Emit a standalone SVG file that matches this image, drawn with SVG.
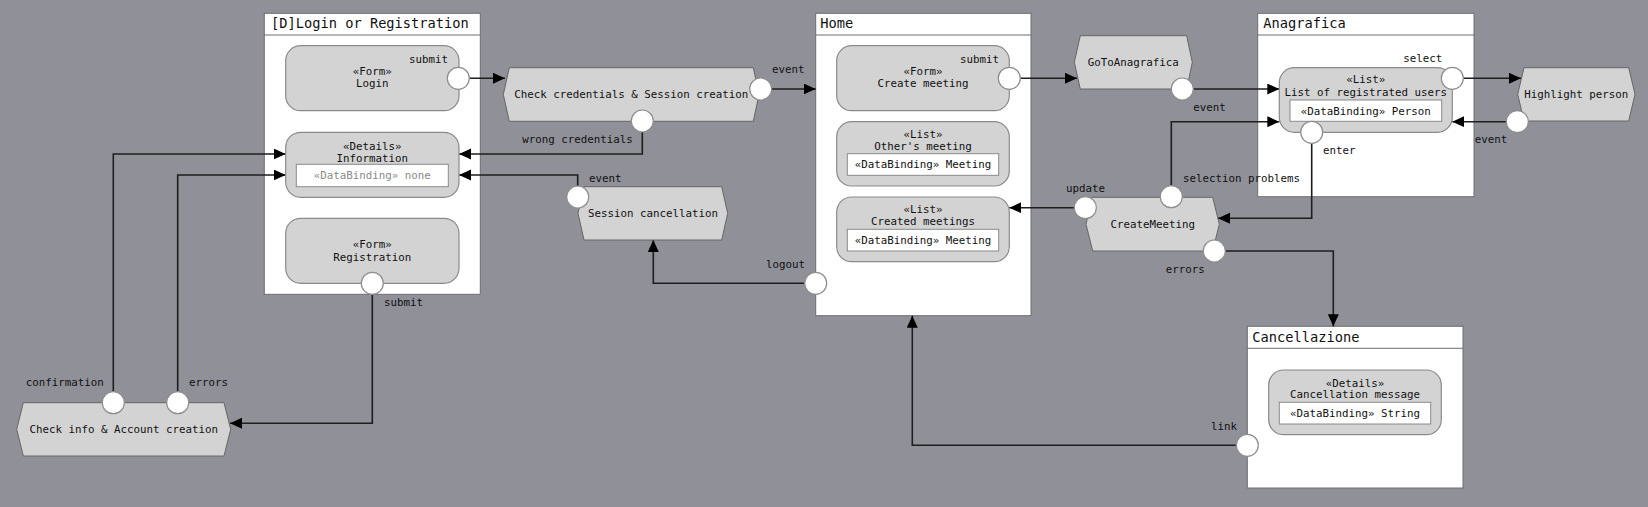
<svg xmlns="http://www.w3.org/2000/svg" width="1648" height="507" viewBox="0 0 1648 507">
<defs>
<style>
.bg{fill:#8f9098}
.cont{fill:#ffffff;stroke:#6e6e6e;stroke-width:1}
.node{fill:#d3d3d3;stroke:#8a8a8a;stroke-width:1.2}
.inner{fill:#ffffff;stroke:#8a8a8a;stroke-width:1}
.hex{fill:#d3d3d3;stroke:#666;stroke-width:1}
.port{fill:#ffffff;stroke:#8e8e8e;stroke-width:1.2}
.conn{fill:none;stroke:#1e1e1e;stroke-width:1.6}
text{font-family:"DejaVu Sans Mono","Liberation Mono",monospace;font-size:10.8px;fill:#111}
.title{font-size:13.7px}
.c{text-anchor:middle}
.e{text-anchor:end}
.gray{fill:#8a8a8a}
</style>
<marker id="arr" markerUnits="userSpaceOnUse" markerWidth="13" markerHeight="12" refX="12" refY="5.5" orient="auto">
<path d="M0,0 L12,5.5 L0,11 z" fill="#000"/>
</marker>
</defs>
<rect class="bg" x="0" y="0" width="1648" height="507"/>

<g id="login-registration">
<rect class="cont" x="264.3" y="13.3" width="216" height="281"/>
<line x1="264.3" y1="35" x2="480.3" y2="35" stroke="#6e6e6e" stroke-width="1"/>
<text class="title" x="271" y="28.3">[D]Login or Registration</text>
</g>
<g id="home">
<rect class="cont" x="815.7" y="13.3" width="215.3" height="302.4"/>
<line x1="815.7" y1="35" x2="1031" y2="35" stroke="#6e6e6e" stroke-width="1"/>
<text class="title" x="820.3" y="28.3">Home</text>
</g>
<g id="anagrafica">
<rect class="cont" x="1257.7" y="13.3" width="216.3" height="183.4"/>
<line x1="1257.7" y1="35" x2="1474" y2="35" stroke="#6e6e6e" stroke-width="1"/>
<text class="title" x="1263.3" y="28.3">Anagrafica</text>
</g>
<g id="cancellazione">
<rect class="cont" x="1247.3" y="326.3" width="215.7" height="161.7"/>
<line x1="1247.3" y1="348.3" x2="1463" y2="348.3" stroke="#6e6e6e" stroke-width="1"/>
<text class="title" x="1252.3" y="341.7">Cancellazione</text>
</g>

<g id="connectors">
<path class="conn" d="M469.3,78.3 H505" marker-end="url(#arr)"/>
<path class="conn" d="M771.7,89 H815.7" marker-end="url(#arr)"/>
<path class="conn" d="M642.3,132 V154 H459" marker-end="url(#arr)"/>
<path class="conn" d="M577.7,186 V175 H459" marker-end="url(#arr)"/>
<path class="conn" d="M113.3,391.7 V154 H285.7" marker-end="url(#arr)"/>
<path class="conn" d="M177.7,391.7 V175 H285.7" marker-end="url(#arr)"/>
<path class="conn" d="M372.3,294.3 V423.3 H230" marker-end="url(#arr)"/>
<path class="conn" d="M804.7,283.3 H653.3 V240" marker-end="url(#arr)"/>
<path class="conn" d="M1020.3,78.3 H1077" marker-end="url(#arr)"/>
<path class="conn" d="M1193.3,89 H1279.3" marker-end="url(#arr)"/>
<path class="conn" d="M1463.3,78.3 H1521" marker-end="url(#arr)"/>
<path class="conn" d="M1506.3,121.7 H1452.3" marker-end="url(#arr)"/>
<path class="conn" d="M1171.3,185.7 V121.7 H1279.3" marker-end="url(#arr)"/>
<path class="conn" d="M1311.7,143.3 V218.3 H1218" marker-end="url(#arr)"/>
<path class="conn" d="M1074.3,207.7 H1009.3" marker-end="url(#arr)"/>
<path class="conn" d="M1225.3,251 H1333.3 V326.3" marker-end="url(#arr)"/>
<path class="conn" d="M1236.3,445.3 H912.3 V315.7" marker-end="url(#arr)"/>
</g>

<g id="form-login">
<rect class="node" x="285.7" y="45.7" width="173.3" height="65" rx="15"/>
<text class="c" x="372.3" y="75">«Form»</text>
<text class="c" x="372.3" y="87.3">Login</text>
<text class="e" x="448" y="62.7">submit</text>
<circle class="port" cx="458.3" cy="78.3" r="11"/>
</g>
<g id="details-information">
<rect class="node" x="285.7" y="132.3" width="173.3" height="65" rx="15"/>
<text class="c" x="372.3" y="149.7">«Details»</text>
<text class="c" x="372.3" y="161.7">Information</text>
<rect class="inner" x="296.3" y="164.3" width="152" height="22.4"/>
<text class="c gray" x="372.3" y="178.8">«DataBinding» none</text>
</g>
<g id="form-registration">
<rect class="node" x="285.7" y="218.3" width="173.3" height="65" rx="15"/>
<text class="c" x="372.3" y="248.3">«Form»</text>
<text class="c" x="372.3" y="260.7">Registration</text>
<circle class="port" cx="372.3" cy="283.3" r="11"/>
<text x="384" y="305.7">submit</text>
</g>
<g id="check-credentials">
<polygon class="hex" points="503.3,94.5 509.3,67.7 753.3,67.7 759,94.5 753.3,121.3 509.3,121.3"/>
<text class="c" x="631.2" y="97.5">Check credentials &amp; Session creation</text>
<circle class="port" cx="760.7" cy="89" r="11"/>
<text x="772" y="73">event</text>
<circle class="port" cx="642.3" cy="121" r="11"/>
<text x="522.3" y="143.3">wrong credentials</text>
</g>
<g id="session-cancellation">
<polygon class="hex" points="578,213.3 584,186.7 721.7,186.7 727.7,213.3 721.7,240 584,240"/>
<text class="c" x="653" y="216.7">Session cancellation</text>
<circle class="port" cx="577.7" cy="197" r="11"/>
<text x="589" y="181.7">event</text>
</g>
<g id="check-info">
<polygon class="hex" points="16.7,429.3 23.3,402.7 224,402.7 230.7,429.3 224,456 23.3,456"/>
<text class="c" x="123.7" y="432.7">Check info &amp; Account creation</text>
<circle class="port" cx="113.3" cy="402.7" r="11"/>
<text x="25.7" y="386">confirmation</text>
<circle class="port" cx="177.7" cy="402.7" r="11"/>
<text x="189" y="386">errors</text>
</g>
<g id="home-logout">
<circle class="port" cx="815.7" cy="283.3" r="11"/>
<text x="766" y="268.3">logout</text>
</g>
<g id="form-create-meeting">
<rect class="node" x="836.7" y="45.7" width="172.6" height="65" rx="15"/>
<text class="c" x="923" y="75">«Form»</text>
<text class="c" x="923" y="87.3">Create meeting</text>
<text class="e" x="999" y="62.7">submit</text>
<circle class="port" cx="1009.3" cy="78.3" r="11"/>
</g>
<g id="list-others-meeting">
<rect class="node" x="836.7" y="121.7" width="172.6" height="64.3" rx="15"/>
<text class="c" x="923" y="138.3">«List»</text>
<text class="c" x="923" y="150.3">Other's meeting</text>
<rect class="inner" x="847.3" y="153.7" width="151.4" height="21.6"/>
<text class="c" x="923" y="168.3">«DataBinding» Meeting</text>
</g>
<g id="list-created-meetings">
<rect class="node" x="836.7" y="197" width="172.6" height="64.7" rx="15"/>
<text class="c" x="923" y="213.3">«List»</text>
<text class="c" x="923" y="225.3">Created meetings</text>
<rect class="inner" x="847.3" y="229.3" width="151.4" height="21.7"/>
<text class="c" x="923" y="243.6">«DataBinding» Meeting</text>
</g>
<g id="goto-anagrafica">
<polygon class="hex" points="1074.3,62.3 1080.3,35.7 1186.7,35.7 1192.3,62.3 1186.7,89 1080.3,89"/>
<text class="c" x="1133.3" y="65.7">GoToAnagrafica</text>
<circle class="port" cx="1182.3" cy="89" r="11"/>
<text x="1193.3" y="111">event</text>
</g>
<g id="list-registrated-users">
<rect class="node" x="1279.3" y="67.7" width="173" height="64.6" rx="15"/>
<text class="c" x="1365.8" y="83.3">«List»</text>
<text class="c" x="1365.8" y="96">List of registrated users</text>
<rect class="inner" x="1290" y="100" width="151.7" height="21.3"/>
<text class="c" x="1365.8" y="114.5">«DataBinding» Person</text>
<circle class="port" cx="1452.3" cy="78.3" r="11"/>
<text x="1403.3" y="62.3">select</text>
<circle class="port" cx="1311.7" cy="132.3" r="11"/>
<text x="1323" y="154.3">enter</text>
</g>
<g id="highlight-person">
<polygon class="hex" points="1517.7,94.3 1524,67.7 1628.7,67.7 1635,94.3 1628.7,121 1524,121"/>
<text class="c" x="1576.3" y="97.7">Highlight person</text>
<circle class="port" cx="1517.3" cy="121.7" r="11"/>
<text x="1474.7" y="143.3">event</text>
</g>
<g id="create-meeting">
<polygon class="hex" points="1086,224.2 1092,197.3 1212.7,197.3 1219.3,224.2 1212.7,251 1092.7,251"/>
<text class="c" x="1152.7" y="227.7">CreateMeeting</text>
<circle class="port" cx="1085.3" cy="207.7" r="11"/>
<text x="1066" y="192.3">update</text>
<circle class="port" cx="1171.3" cy="196.7" r="11"/>
<text x="1183" y="181.7">selection problems</text>
<circle class="port" cx="1214.3" cy="251" r="11"/>
<text x="1165.7" y="273.3">errors</text>
</g>
<g id="details-cancellation-message">
<rect class="node" x="1268.7" y="370" width="172.6" height="64.7" rx="15"/>
<text class="c" x="1355" y="386.7">«Details»</text>
<text class="c" x="1355" y="398.3">Cancellation message</text>
<rect class="inner" x="1279.3" y="402.3" width="151.4" height="21.7"/>
<text class="c" x="1355" y="416.7">«DataBinding» String</text>
</g>
<g id="cancellazione-link">
<circle class="port" cx="1247.3" cy="445.3" r="11"/>
<text x="1211" y="430">link</text>
</g>
</svg>
